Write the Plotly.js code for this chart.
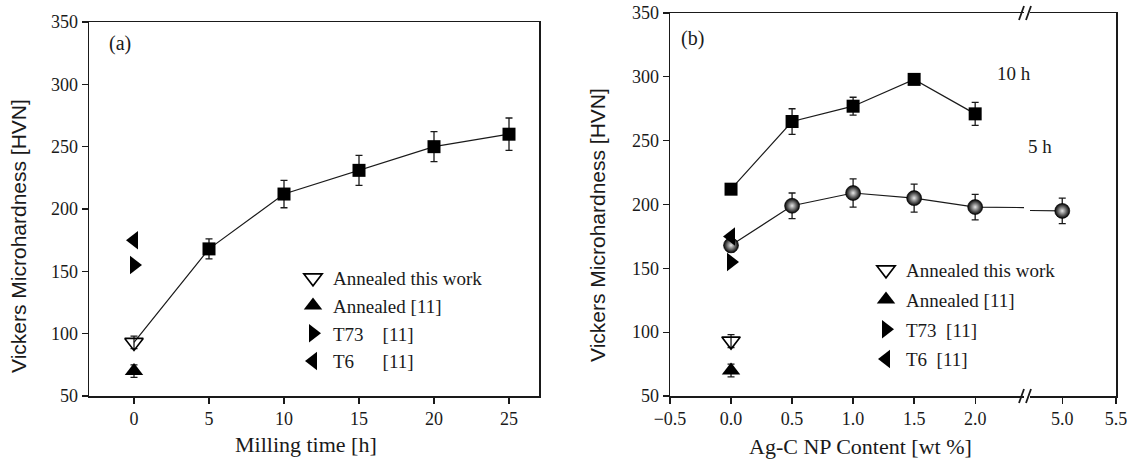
<!DOCTYPE html>
<html>
<head>
<meta charset="utf-8">
<script src="https://cdn.plot.ly/plotly-3.0.1.min.js"></script>
<style>html,body{margin:0;padding:0;background:#fff;}#chart{width:1133px;height:465px;}</style>
</head>
<body>
<div id="chart"></div>
<script>
// ---------- data: panel (a) ----------
const millTime = [0, 5, 10, 15, 20, 25];
const hvMill = [93, 168, 212, 231, 250, 260];
const errMill = [5, 8, 11, 12, 12, 13];

// reference treatments [11] at 0 h / 0 wt%
const refLabelsA = ['Annealed [11]', 'T73\u00A0\u00A0\u00A0\u00A0[11]', 'T6\u00A0\u00A0\u00A0\u00A0\u00A0\u00A0[11]'];
const refLabelsB = ['Annealed [11]', 'T73\u00A0\u00A0[11]', 'T6\u00A0\u00A0[11]'];
const refValues = [70, 155, 175];
const refErr = [5, 0, 0];
const annealedLabel = 'Annealed this work';

// ---------- data: panel (b) ----------
const agc5h = [0.0, 0.5, 1.0, 1.5, 2.0, 5.0];
const hv5h = [168, 199, 209, 205, 198, 195];
const err5h = [5, 10, 11, 11, 10, 10];
const agc10h = [0.0, 0.5, 1.0, 1.5, 2.0];
const hv10h = [212, 265, 277, 298, 271];
const err10h = [3, 10, 7, 3, 9];
const annealedB = 93, annealedBErr = 5;

const ticksA = [0, 5, 10, 15, 20, 25];
const ticksB1 = [-0.5, 0.0, 0.5, 1.0, 1.5, 2.0];
const ticksB2 = [5.0, 5.5];
const ticksY = [50, 100, 150, 200, 250, 300, 350];

// ---------- layout helpers ----------
const W = 1133, H = 465;
const px = x => x / W;
const py = y => 1 - y / H;
const INK = '#1a1a1a';
const SERIF = 'Liberation Serif, Times New Roman, serif';
const SANS = 'Liberation Sans, Arial, sans-serif';

const refSymbols = ['triangle-up', 'triangle-right', 'triangle-left'];
const errStyle = {type: 'data', visible: true, color: INK, thickness: 1.3, width: 3.5};
const TRI = 16;

const traces = [];

// panel (a)
traces.push({x: millTime, y: hvMill, mode: 'lines', line: {color: INK, width: 1.2},
  xaxis: 'x', yaxis: 'y', showlegend: false, hoverinfo: 'skip'});
traces.push({x: millTime.slice(1), y: hvMill.slice(1), mode: 'markers',
  marker: {symbol: 'square', size: 13, color: '#000'},
  error_y: Object.assign({array: errMill.slice(1)}, errStyle),
  xaxis: 'x', yaxis: 'y', showlegend: false});
traces.push({x: [millTime[0]], y: [hvMill[0]], mode: 'markers', name: annealedLabel,
  marker: {symbol: 'triangle-down-open', size: TRI, color: '#000', line: {width: 1.6, color: '#000'}},
  error_y: Object.assign({array: [errMill[0]]}, errStyle),
  xaxis: 'x', yaxis: 'y', legend: 'legend', legendgroup: 'a0'});
refValues.forEach((v, i) => {
  traces.push({x: [0], y: [v], mode: 'markers', name: refLabelsA[i],
    marker: {symbol: refSymbols[i], size: TRI, color: '#000'},
    error_y: Object.assign({array: [refErr[i]]}, errStyle),
    xaxis: 'x', yaxis: 'y', legend: 'legend', legendgroup: 'a' + (i + 1)});
});

// panel (b): series drawn on both halves of the broken axis
[['x2', 'y2'], ['x3', 'y3']].forEach(([xa, ya]) => {
  traces.push({x: agc10h, y: hv10h, mode: 'lines+markers', line: {color: INK, width: 1.2},
    marker: {symbol: 'square', size: 13, color: '#000'},
    error_y: Object.assign({array: err10h}, errStyle),
    xaxis: xa, yaxis: ya, showlegend: false});
  traces.push({x: agc5h, y: hv5h, mode: 'lines+markers', line: {color: INK, width: 1.2},
    marker: {symbol: 'circle', size: 15, color: '#000',
      gradient: {type: 'radial', color: '#e6e6e6'}, line: {width: 0.6, color: '#000'}},
    error_y: Object.assign({array: err5h}, errStyle),
    xaxis: xa, yaxis: ya, showlegend: false});
});
traces.push({x: [0], y: [annealedB], mode: 'markers', name: annealedLabel,
  marker: {symbol: 'triangle-down-open', size: TRI, color: '#000', line: {width: 1.6, color: '#000'}},
  error_y: Object.assign({array: [annealedBErr]}, errStyle),
  xaxis: 'x2', yaxis: 'y2', legend: 'legend2', legendgroup: 'b0'});
refValues.forEach((v, i) => {
  traces.push({x: [0], y: [v], mode: 'markers', name: refLabelsB[i],
    marker: {symbol: refSymbols[i], size: TRI, color: '#000'},
    error_y: Object.assign({array: [refErr[i]]}, errStyle),
    xaxis: 'x2', yaxis: 'y2', legend: 'legend2', legendgroup: 'b' + (i + 1)});
});

const axBase = {
  showline: true, linecolor: INK, linewidth: 1.5, showgrid: false, zeroline: false,
  ticks: 'outside', ticklen: 6, tickwidth: 1.3, tickcolor: INK,
  tickfont: {family: SERIF, size: 18, color: INK}
};

const legBase = {
  font: {family: SERIF, size: 19, color: INK}, bgcolor: 'rgba(0,0,0,0)',
  xref: 'paper', yref: 'paper', xanchor: 'left', yanchor: 'top',
  traceorder: 'grouped', itemsizing: 'trace'
};

// break marks (//) on top and bottom lines
const shapes = [];
[13, 396].forEach(yl => {
  [1019, 1026].forEach(xs => {
    shapes.push({type: 'line', xref: 'paper', yref: 'paper',
      x0: px(xs), y0: py(yl + 7), x1: px(xs + 5), y1: py(yl - 7),
      line: {color: INK, width: 1.8}});
  });
});

const ann = (text, x, y, size, family, extra) => Object.assign({
  text: text, x: px(x), y: py(y), xref: 'paper', yref: 'paper', showarrow: false,
  xanchor: 'center', yanchor: 'middle', font: {family: family || SERIF, size: size, color: INK}
}, extra || {});

const layout = {
  width: W, height: H, margin: {l: 0, r: 0, t: 0, b: 0},
  paper_bgcolor: '#fff', plot_bgcolor: '#fff',
  xaxis: Object.assign({}, axBase, {domain: [px(89), px(539)], range: [-3, 27], tickvals: ticksA,
    mirror: true, anchor: 'y'}),
  yaxis: Object.assign({}, axBase, {domain: [py(396), py(22)], range: [50, 350], tickvals: ticksY,
    mirror: true, anchor: 'x'}),
  xaxis2: Object.assign({}, axBase, {domain: [px(670), px(1024)], range: [-0.5, 2.4], tickvals: ticksB1,
    tickformat: '.1f', mirror: true, anchor: 'y2'}),
  yaxis2: Object.assign({}, axBase, {domain: [py(396), py(13)], range: [50, 350], tickvals: ticksY,
    anchor: 'x2'}),
  xaxis3: Object.assign({}, axBase, {domain: [px(1030), px(1116)], range: [4.7, 5.5], tickvals: ticksB2,
    tickformat: '.1f', mirror: true, anchor: 'y3'}),
  yaxis3: Object.assign({}, axBase, {domain: [py(396), py(13)], range: [50, 350], anchor: 'x3',
    side: 'right', ticks: '', showticklabels: false}),
  legend: Object.assign({}, legBase, {x: px(293), y: py(259), tracegroupgap: 0}),
  legend2: Object.assign({}, legBase, {x: px(866), y: py(251), tracegroupgap: 2}),
  shapes: shapes,
  annotations: [
    ann('(a)', 120, 43, 20),
    ann('(b)', 692, 39, 20),
    ann('10 h', 1014, 73, 19),
    ann('5 h', 1040, 146, 19),
    ann('Milling time [h]', 306, 444, 22),
    ann('Ag-C NP Content [wt %]', 860, 446, 22),
    ann('Vickers Microhardness [HVN]', 18, 236, 21, SANS, {textangle: -90}),
    ann('Vickers Microhardness [HVN]', 597, 225, 21, SANS, {textangle: -90})
  ],
  showlegend: true
};

Plotly.newPlot('chart', traces, layout, {displayModeBar: false, staticPlot: true});
</script>
</body>
</html>
